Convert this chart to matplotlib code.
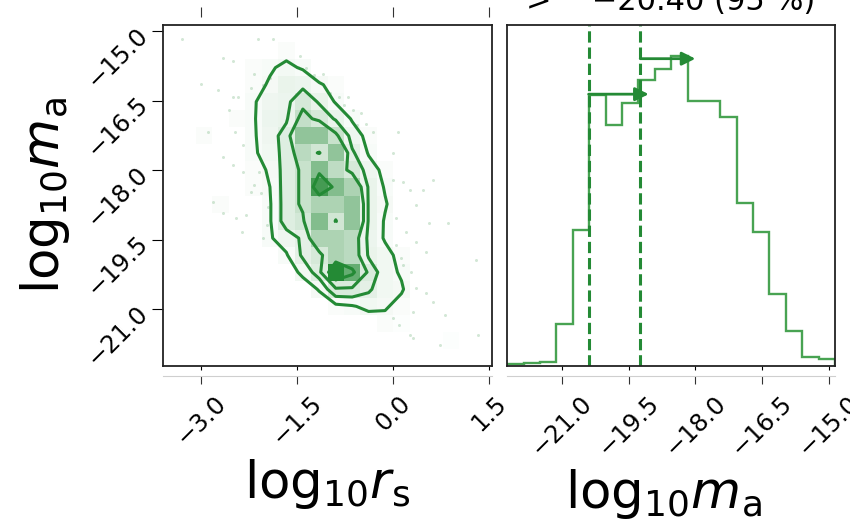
import matplotlib
matplotlib.use("Agg")
import matplotlib.pyplot as plt
import numpy as np
from matplotlib.colors import LinearSegmentedColormap

# axis ranges and ticks
rs_range = (-3.6, 1.55)
ma_range = (-22.23, -14.86)
rs_ticks = [-3.0, -1.5, 0.0, 1.5]
ma_ticks = [-21.0, -19.5, -18.0, -16.5, -15.0]

# 1D marginal of log10 m_a (20 bins over ma_range)
ma_counts = [5, 8, 13, 126, 406, 810, 720, 786, 853, 886,
             926, 793, 793, 745, 486, 400, 216, 106, 26, 20]

# lower limits with arrows
limit_x = [-20.40, -19.24]
arrow_y = [812, 918]
arrow_len = [1.35, 1.24]

# 2D histogram (20x20), rows from top (high m_a) to bottom
density = [
    [0, 0, 0, 0, 0, 0, 0, 0, 0, 0, 0, 0, 0, 0, 0, 0, 0, 0, 0, 0],
    [0, 0, 0, 0, 0, 0, 0, 2, 0, 0, 0, 0, 0, 0, 0, 0, 0, 0, 0, 0],
    [0, 0, 0, 0, 0, 2, 3, 4.5, 3, 0, 0, 0, 0, 0, 0, 0, 0, 0, 0, 0],
    [0, 0, 0, 0, 0, 2, 4, 8, 7, 4, 2, 0, 0, 0, 0, 0, 0, 0, 0, 0],
    [0, 0, 0, 0, 0, 3, 6, 7, 15, 8, 3, 0, 0, 0, 0, 0, 0, 0, 0, 0],
    [0, 0, 0, 0, 2, 3, 7, 8, 22, 15, 8, 3, 0, 0, 0, 0, 0, 0, 0, 0],
    [0, 0, 2, 0, 0, 3, 6, 12, 40, 40, 20, 6, 2, 0, 0, 0, 0, 0, 0, 0],
    [0, 0, 0, 0, 0, 3, 5, 12, 25, 17, 40, 10, 3, 0, 0, 0, 0, 0, 0, 0],
    [0, 0, 0, 0, 0, 2, 4, 12, 20, 45, 24, 15, 6, 2, 0, 0, 0, 0, 0, 0],
    [0, 0, 0, 0, 0, 2, 3.5, 12, 20, 68, 45, 30, 8, 3, 0, 0, 0, 0, 0, 0],
    [0, 0, 0, 2, 0, 0, 3, 12, 20, 30, 30, 40, 8, 4, 0, 0, 0, 0, 0, 0],
    [0, 0, 0, 0, 0, 0, 3, 12, 16, 45, 17, 40, 8, 3, 0, 0, 0, 0, 0, 0],
    [0, 0, 0, 0, 0, 0, 3, 6, 10, 30, 30, 25, 7, 3, 0, 0, 0, 0, 0, 0],
    [0, 0, 0, 0, 0, 0, 0, 3, 10, 15, 30, 25, 8, 5, 2, 0, 0, 0, 0, 0],
    [0, 0, 0, 0, 0, 0, 0, 0, 5, 12, 80, 56, 14, 5, 3, 0, 0, 0, 0, 0],
    [0, 0, 0, 0, 0, 0, 0, 0, 0, 4, 14, 14, 10, 5, 4, 0, 0, 0, 0, 0],
    [0, 0, 0, 0, 0, 0, 0, 0, 0, 0, 2, 3, 5, 4, 2, 0, 0, 0, 0, 0],
    [0, 0, 0, 0, 0, 0, 0, 0, 0, 0, 0, 0, 0, 2, 1, 0, 0, 0, 0, 0],
    [0, 0, 0, 0, 0, 0, 0, 0, 0, 0, 0, 0, 0, 0, 0, 0, 0, 1, 0, 0],
    [0, 0, 0, 0, 0, 0, 0, 0, 0, 0, 0, 0, 0, 0, 0, 0, 0, 0, 0, 0],
]
contour_levels = [3.5, 9, 18, 50]

# samples outside the contours
sample_rs = [-3.31, -2.11, -1.88, -1.46, -2.66, -2.50, -2.17, -2.04, -1.93, -2.22,
             -3.00, -2.74, -2.50, -2.43, -2.56, -1.49, -1.36, -1.23, -1.10, -0.99,
             -0.84, -0.70, -0.76, -0.63, -0.50, -0.57, -0.42, -0.31, 0.08, 0.00,
             -2.90, -2.48, -2.35, -2.66, -2.50, -2.35, -2.09, -2.17, -2.22, -2.06,
             -1.93, -1.96, -2.66, -2.45, -2.30, -2.37, -2.04, -1.98, 0.00, 0.16,
             0.26, 0.47, 0.63, 0.36, 0.57, 0.86, 0.05, 0.21, 0.05, 0.13,
             0.36, 0.52, 0.16, 0.29, 0.36, 0.52, 0.63, 0.81, 0.31, 0.00,
             0.10, 0.26, 0.31, 0.73, 1.30, 1.33, -2.82]
sample_ma = [-15.16, -15.16, -15.16, -15.54, -15.58, -15.64, -15.91, -16.16, -16.01, -16.23,
             -16.14, -16.27, -16.41, -16.41, -16.70, -15.76, -15.80, -15.94, -15.91, -16.34,
             -16.41, -16.41, -16.59, -16.70, -16.77, -17.02, -16.99, -17.17, -17.17, -17.63,
             -17.17, -17.18, -17.45, -17.71, -17.89, -18.03, -18.03, -18.32, -18.46, -18.50,
             -18.61, -18.79, -18.93, -19.04, -18.97, -19.33, -19.47, -19.18, -18.21, -18.25,
             -18.43, -18.43, -18.21, -18.75, -19.15, -19.15, -19.04, -19.33, -19.62, -19.90,
             -19.54, -19.76, -20.05, -20.19, -20.55, -20.66, -20.84, -21.13, -21.06, -21.20,
             -21.34, -21.56, -21.63, -21.78, -19.94, -21.56, -18.68]

green = "#248a35"
hist_green = "#34993f"
label_rs = r"$\mathrm{log}_{10}r_\mathrm{s}$"
label_ma = r"$\mathrm{log}_{10}m_\mathrm{a}$"
title = "> \u2003\u221220.40 (95 %)"

fig = plt.figure(figsize=(8.5, 5.21), dpi=100)
ax2d = fig.add_axes([0.1918, 0.2975, 0.387, 0.6545])
axh = fig.add_axes([0.5968, 0.2975, 0.3855, 0.6545])

# 2D panel
H = np.flipud(np.array(density, dtype=float))
xedges = np.linspace(rs_range[0], rs_range[1], H.shape[1] + 1)
yedges = np.linspace(ma_range[0], ma_range[1], H.shape[0] + 1)
xc = 0.5 * (xedges[1:] + xedges[:-1])
yc = 0.5 * (yedges[1:] + yedges[:-1])
cmap = LinearSegmentedColormap.from_list("dens", ["#ffffff", green])
ax2d.plot(sample_rs, sample_ma, "o", ms=2.2, color=green, alpha=0.2, mec="none", zorder=1)
ax2d.pcolormesh(xedges, yedges, H, cmap=cmap, vmin=0, vmax=H.max(), zorder=0)
ax2d.contour(xc, yc, H, levels=contour_levels, colors=green, linewidths=2.2, zorder=3)
ax2d.set_xlim(rs_range)
ax2d.set_ylim(ma_range)

# 1D panel
ma_edges = np.linspace(ma_range[0], ma_range[1], len(ma_counts) + 1)
axh.stairs(ma_counts, ma_edges, color=hist_green, lw=1.7, alpha=0.9)
for x in limit_x:
    axh.axvline(x, color=green, ls="--", lw=2.2)
for x, y, l in zip(limit_x, arrow_y, arrow_len):
    axh.annotate("", xy=(x + l, y), xytext=(x, y),
                 arrowprops=dict(arrowstyle="-|>", color=green, lw=2,
                                 mutation_scale=20, shrinkA=0, shrinkB=0))
axh.set_xlim(ma_range)
axh.set_ylim(0, 1.1 * max(ma_counts))
axh.set_yticks([])
axh.set_title(title, fontsize=22, pad=11)

for ax in (ax2d, axh):
    for s in ax.spines.values():
        s.set_linewidth(1.3)
        s.set_color("#222222")

# ticks on the panel frames, labels on an offset axis below
ax2d.set_xticks(rs_ticks)
ax2d.tick_params(axis="x", labelbottom=False, length=3)
ax2d.set_yticks(ma_ticks)
ax2d.tick_params(axis="y", length=8, labelsize=17.5, pad=6)
for lab in ax2d.get_yticklabels():
    lab.set_rotation(45)
    lab.set_rotation_mode("anchor")
    lab.set_va("center")
axh.set_xticks(ma_ticks)
axh.tick_params(axis="x", labelbottom=False, length=3)

for ax, ticks in ((ax2d, rs_ticks), (axh, ma_ticks)):
    sec = ax.secondary_xaxis(-0.029)
    sec.set_xticks(ticks)
    sec.tick_params(length=6, labelsize=17.5, labelrotation=45, color="#333333", pad=5)
    sec.spines["bottom"].set_color("#cfcfcf")

top = ax2d.secondary_xaxis(1.0235)
top.set_xticks(rs_ticks)
top.set_xticklabels([])
top.tick_params(length=7, color="#333333")
top.spines["top"].set_visible(False)

ax2d.set_ylabel(label_ma, fontsize=37)
ax2d.yaxis.set_label_coords(-0.277, 0.5)
ax2d.set_xlabel(label_rs, fontsize=37)
ax2d.xaxis.set_label_coords(0.5, -0.267)
axh.set_xlabel(label_ma, fontsize=37)
axh.xaxis.set_label_coords(0.476, -0.296)

fig.savefig("out.png", dpi=100)
